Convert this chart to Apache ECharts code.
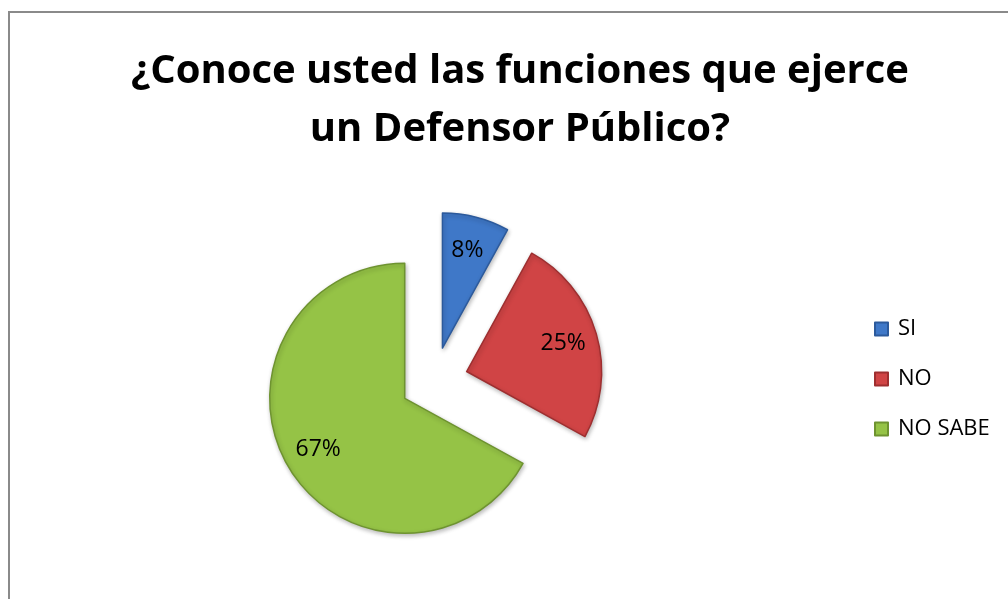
<!DOCTYPE html>
<html>
<head>
<meta charset="utf-8">
<script src="https://cdn.jsdelivr.net/npm/echarts@6/dist/echarts.min.js"></script>
<style>
  html, body { margin: 0; padding: 0; background: #fff; }
  #chart { width: 1008px; height: 599px; }
</style>
</head>
<body>
<div id="chart"></div>
<script>
// Survey answers and their shares (percent)
const categories = ['SI', 'NO', 'NO SABE'];
const shares = [8, 25, 67];
const sliceColors = ['#3f78c8', '#d04445', '#95c346'];
const sliceEdges = ['#2c5a9c', '#9e2f30', '#6e9330'];
const titleText = '¿Conoce usted las funciones que ejerce\nun Defensor Público?';

const center = [434, 381];
const outerRadius = 135;
const explode = 34;

const sliceData = categories.map((name, i) => ({
  name,
  value: shares[i],
  selected: true,
  itemStyle: { color: sliceColors[i], borderColor: sliceEdges[i] }
}));

const labelData = categories.map((name, i) => ({
  name,
  value: shares[i],
  selected: true
}));

const chart = echarts.init(document.getElementById('chart'), null, { renderer: 'canvas' });
chart.setOption({
  animation: false,
  backgroundColor: '#ffffff',
  title: {
    text: titleText,
    left: 515,
    top: 38,
    textAlign: 'center',
    textStyle: {
      fontFamily: 'Open Sans',
      fontWeight: 'bold',
      fontSize: 40,
      lineHeight: 58,
      color: '#000'
    }
  },
  legend: {
    orient: 'vertical',
    left: 874,
    top: 318,
    padding: 0,
    itemWidth: 13,
    itemHeight: 13,
    itemGap: 28,
    icon: 'rect',
    data: categories,
    selectedMode: false,
    textStyle: { fontFamily: 'Open Sans', fontSize: 22, color: '#000', padding: [0, 0, 0, 5] }
  },
  graphic: [{
    type: 'rect',
    shape: { x: 9, y: 12, width: 1100, height: 700 },
    style: { fill: 'none', stroke: '#8a8a8a', lineWidth: 2 },
    silent: true
  }],
  series: [
    {
      type: 'pie',
      center: center,
      radius: [0, outerRadius],
      startAngle: 90,
      clockwise: true,
      selectedMode: 'multiple',
      selectedOffset: explode,
      avoidLabelOverlap: false,
      label: { show: false },
      labelLine: { show: false },
      emphasis: { disabled: true },
      itemStyle: {
        borderWidth: 1.5,
        shadowBlur: 4,
        shadowColor: 'rgba(0,0,0,0.25)',
        shadowOffsetX: 1,
        shadowOffsetY: 2
      },
      data: sliceData
    },
    {
      // transparent ring used only to place the percentage labels
      type: 'pie',
      center: center,
      radius: [60, outerRadius],
      startAngle: 90,
      clockwise: true,
      selectedMode: 'multiple',
      selectedOffset: explode,
      silent: true,
      avoidLabelOverlap: false,
      itemStyle: { color: 'rgba(0,0,0,0)' },
      emphasis: { disabled: true },
      label: {
        show: true,
        position: 'inside',
        formatter: '{c}%',
        fontFamily: 'Open Sans',
        fontSize: 23,
        color: '#000'
      },
      labelLine: { show: false },
      data: labelData
    }
  ]
});
</script>
</body>
</html>
